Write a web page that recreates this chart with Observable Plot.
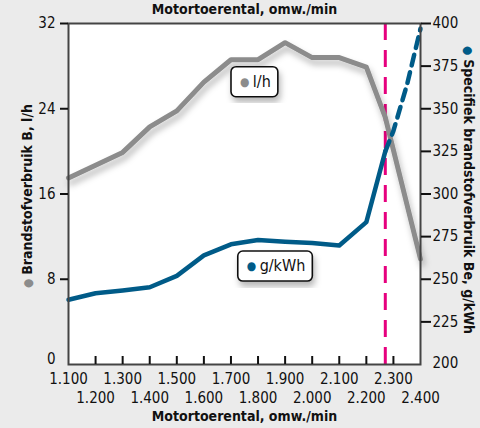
<!DOCTYPE html>
<html><head><meta charset="utf-8">
<script src="https://cdn.jsdelivr.net/npm/d3@7"></script>
<script src="https://cdn.jsdelivr.net/npm/@observablehq/plot@0.6"></script>
<style>
body{margin:0;background:#ebebeb;}
#chart{width:480px;height:428px;overflow:hidden;}
</style></head><body><div id="chart"></div>
<script>
// ---- data ----
const grayRpm  = [1100,1200,1300,1400,1500,1600,1700,1800,1900,2000,2100,2200,2270,2400];
const grayLh   = [17.5,18.7,19.9,22.3,23.8,26.5,28.6,28.6,30.2,28.8,28.8,27.9,23.2,9.9];
const blueRpm  = [1100,1200,1300,1400,1500,1600,1700,1800,1900,2000,2100,2200,2270];
const blueGkwh = [238,241.8,243.4,245.3,252,264,270.5,273,272,271.3,269.8,283.5,325];
const blueDashRpm  = [2270,2300,2350,2400];
const blueDashGkwh = [325,337,364,397];
const markerRpm = [2270];
const xTicksOdd  = [1100,1300,1500,1700,1900,2100,2300];
const xTicksEven = [1200,1400,1600,1800,2000,2200,2400];
const xTicksInner = [1200,1300,1400,1500,1600,1700,1800,1900,2000,2100,2200,2300];
const leftTicks  = [8,16,24,32];
const rightTicks = [225,250,275,300,325,350,375,400];
const xTitle = "Motortoerental, omw./min";
const leftTitle = "Brandstofverbruik B, l/h";
const rightTitle = "Specifiek brandstofverbruik Be, g/kWh";
const labels = [
  {text:"l/h", rpm:1702, lh:27.9, color:"gray"},
  {text:"g/kWh", rpm:1727, lh:10.6, color:"blue"}
];

const GRAY="#8c8c8c", BLUE="#005b88", MAGENTA="#e6007e", INK="#111";
const FONT="'DejaVu Sans Condensed',sans-serif";
const toLeft = v => (v-200)/200*32;
const fromLeft = y => y/32*200+200;
const fmt = d => d3.format(",")(d).replace(",",".");

const gray = grayRpm.map((r,i)=>({r, v:grayLh[i]}));
const blue = blueRpm.map((r,i)=>({r, v:blueGkwh[i]}));
const blueD = blueDashRpm.map((r,i)=>({r, v:blueDashGkwh[i]}));

const plot = Plot.plot({
  width:480, height:428,
  marginLeft:68, marginRight:60, marginTop:23, marginBottom:64,
  style:{background:"transparent", fontFamily:FONT, fontSize:"15px", color:INK, overflow:"visible"},
  x:{domain:[1100,2400]},
  y:{domain:[0,32]},
  marks:[
    Plot.frame({fill:"white", stroke:null}),
    Plot.ruleX(markerRpm, {stroke:MAGENTA, strokeWidth:3, strokeDasharray:"17,10"}),
    Plot.line(gray, {x:"r", y:"v", stroke:GRAY, strokeWidth:5}),
    Plot.line(blue, {x:"r", y:d=>toLeft(d.v), stroke:BLUE, strokeWidth:4.5}),
    Plot.line(blueD, {x:"r", y:d=>toLeft(d.v), stroke:BLUE, strokeWidth:4.5, strokeDasharray:"11,7"}),
    Plot.frame({stroke:"#444", strokeWidth:2}),
    Plot.axisX({ticks:xTicksInner, tickSize:8, dy:-8, tickFormat:()=>"", strokeWidth:2, label:null}),
    Plot.axisX({ticks:xTicksOdd, tickSize:0, tickPadding:9, tickFormat:fmt, label:null}),
    Plot.axisX({ticks:xTicksEven, tickSize:0, tickPadding:28, tickFormat:fmt, label:null}),
    Plot.axisY({ticks:leftTicks, tickSize:8, tickPadding:5, strokeWidth:2, label:null}),
    Plot.axisY({ticks:[0], tickSize:0, tickPadding:13, dy:-5, label:null}),
    Plot.axisY({anchor:"right", ticks:rightTicks.map(toLeft), tickFormat:d=>Math.round(fromLeft(d)), tickSize:10, tickPadding:2, strokeWidth:2, label:null}),
    Plot.axisY({anchor:"right", ticks:[toLeft(200)], tickFormat:d=>Math.round(fromLeft(d)), tickSize:0, tickPadding:12, dy:-1.5, label:null}),
    Plot.text([xTitle], {frameAnchor:"bottom", dy:56, fontWeight:"bold", fontSize:14}),
    Plot.text([xTitle], {frameAnchor:"top", dy:-19, fontWeight:"bold", fontSize:14})
  ]
});
document.getElementById("chart").appendChild(plot);

const svg = d3.select(plot);
const defs = svg.insert("defs", ":first-child");
const f = defs.append("filter").attr("id","shadow").attr("x","-20%").attr("y","-20%").attr("width","140%").attr("height","140%");
f.append("feDropShadow").attr("dx",2).attr("dy",5).attr("stdDeviation",3).attr("flood-color","#000").attr("flood-opacity",0.28);
svg.selectAll('[stroke="#8c8c8c"]').attr("filter","url(#shadow)");

const xs = plot.scale("x"), ys = plot.scale("y");
const colorOf = c => c==="gray"?GRAY:BLUE;

// rotated axis titles
const lt = svg.append("text")
  .attr("transform","translate(28,196) rotate(-90)")
  .attr("text-anchor","middle").attr("dominant-baseline","middle")
  .style("font-family",FONT).style("font-weight","bold").style("font-size","14px").attr("fill",INK);
lt.append("tspan").attr("fill",GRAY).style("font-size","12px").text("● ");
lt.append("tspan").text(leftTitle);

const rt = svg.append("text")
  .attr("transform","translate(468,190) rotate(90)")
  .attr("text-anchor","middle").attr("dominant-baseline","middle")
  .style("font-family",FONT).style("font-weight","bold").style("font-size","14px").attr("fill",INK);
rt.append("tspan").attr("fill",BLUE).style("font-size","12px").text("● ");
rt.append("tspan").text(rightTitle);

// label boxes
for (const L of labels) {
  const x0 = xs.apply(L.rpm), y0 = ys.apply(L.lh);
  const g = svg.append("g");
  const t = g.append("text")
    .attr("x", x0+9).attr("y", y0+15).attr("dominant-baseline","middle").attr("text-anchor","start")
    .style("font-family",FONT).style("font-size","16px").attr("fill",INK);
  t.append("tspan").attr("fill",colorOf(L.color)).style("font-size","12px").text("● ");
  t.append("tspan").text(L.text);
  const bb = t.node().getBBox();
  g.insert("rect","text")
    .attr("x", x0).attr("y", y0)
    .attr("width", bb.width+16).attr("height", 30)
    .attr("rx",5).attr("fill","white").attr("stroke",INK).attr("stroke-width",1.6)
    .attr("filter","url(#shadow)");
}
</script></body></html>
